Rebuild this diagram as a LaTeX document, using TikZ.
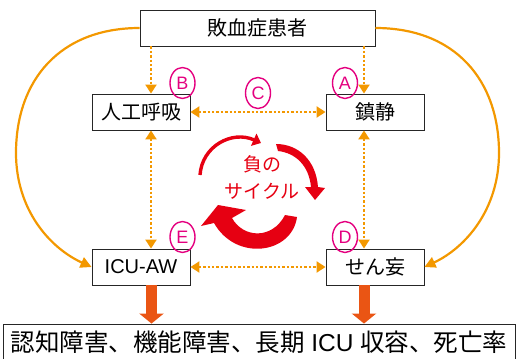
\documentclass[tikz,border=0pt]{standalone}
\usepackage{fontspec}
\setmainfont{Liberation Sans}
\newfontfamily\jp{Noto Sans CJK JP}
\usetikzlibrary{arrows.meta,calc,shapes.geometric}
\definecolor{orangeA}{HTML}{F39800}
\definecolor{orangeB}{HTML}{EA5514}
\definecolor{redA}{HTML}{E60012}
\definecolor{magA}{HTML}{E4007F}
\begin{document}
\begin{tikzpicture}[x=1pt,y=-1pt,
  box/.style={draw=black!85, line width=0.9pt, fill=white, minimum width=98pt, minimum height=36pt, inner sep=0pt, font=\jp\fontsize{20}{24}\selectfont},
  dotline/.style={orangeA, line width=2.9pt, dash pattern=on 2.3pt off 2.1pt},
  dtip/.style={-{Triangle[length=9pt,width=11pt]}},
  ddtip/.style={{Triangle[length=9pt,width=11pt]}-{Triangle[length=9pt,width=11pt]}},
  curve/.style={orangeA, line width=2.2pt, -{Triangle[length=11pt,width=11pt]}},
  bigdown/.style={orangeB, line width=11pt, -{Triangle[length=10pt,width=24pt]}},
  circlab/.style={draw=magA, text=magA, ellipse, minimum width=25pt, minimum height=31pt, inner sep=0pt, line width=1.4pt, font=\fontsize{18}{20}\selectfont},
  redtext/.style={text=redA, font=\jp\fontsize{19}{22}\selectfont, inner sep=0pt}
]
\useasboundingbox (0,0) rectangle (520,359);
\clip (0,0) rectangle (520,359);

% boxes
\node[box, minimum width=235pt] (top) at (257.5,28) {敗血症患者};
\node[box] (vent) at (141,112) {人工呼吸};
\node[box] (sed) at (375,112) {鎮静};
\node[box, font=\fontsize{20}{24}\selectfont] (icu) at (141,267) {ICU-AW};
\node[box] (del) at (375,267) {せん妄};
\node[box, minimum width=512pt, minimum height=37pt, font=\fontsize{24.5}{28}\selectfont] (res) at (259,342.5)
  {{\jp 認知障害、機能障害、長期} ICU {\jp 収容、死亡率}};

% orange curves
\draw[curve] (top.west) .. controls (60,28) and (16,80) .. (16,153) .. controls (16,210) and (50,248) .. (icu.west);
\draw[curve] (top.east) .. controls (455,28) and (499,80) .. (499,153) .. controls (499,210) and (465,248) .. (del.east);

% dotted arrows
\draw[dotline, dtip] ([xshift=10pt]vent.north |- top.south) -- ([xshift=10pt]vent.north);
\draw[dotline, dtip] ([xshift=-11pt]sed.north |- top.south) -- ([xshift=-11pt]sed.north);
\draw[dotline, ddtip] ([xshift=10pt]vent.south) -- ([xshift=10pt]icu.north);
\draw[dotline, ddtip] ([xshift=-11pt]sed.south) -- ([xshift=-11pt]del.north);
\draw[dotline, ddtip] (vent.east) -- (sed.west);
\draw[dotline, ddtip] (icu.east) -- (del.west);

% thick down arrows
\draw[bigdown] ([xshift=10.5pt]icu.south) -- ([xshift=10.5pt]icu.south |- res.north);
\draw[bigdown] ([xshift=-11pt]del.south) -- ([xshift=-11pt]del.south |- res.north);

% circled letters
\node[circlab] (cB) at (182.5,83) {B};
\node[circlab] (cC) at (258,93) {C};
\node[circlab] (cA) at (345,83) {A};
\node[circlab] (cE) at (182.5,237) {E};
\node[circlab] (cD) at (345,237) {D};

% negative cycle
\node[redtext] (t1) at (262,164) {負の};
\node[redtext] (t2) at (262,191) {サイクル};
\draw[redA, line width=3.4pt, -{Triangle[length=8pt,width=13pt]}] (200,175) .. controls (202,146) and (232,130) .. (261,143);
\fill[redA] (276,144) .. controls (298,144) and (316,160) .. (318,187) -- (325,188) -- (315,200) -- (305,187) -- (311,187) .. controls (309,166) and (296,153) .. (278,151) -- cycle;
\fill[redA] (218,205) -- (246,210) -- (232,218) .. controls (243,238) and (272,240) .. (285,215) -- (297,217) .. controls (292,254) and (236,262) .. (214,223) -- (201,226) -- cycle;
\end{tikzpicture}
\end{document}
